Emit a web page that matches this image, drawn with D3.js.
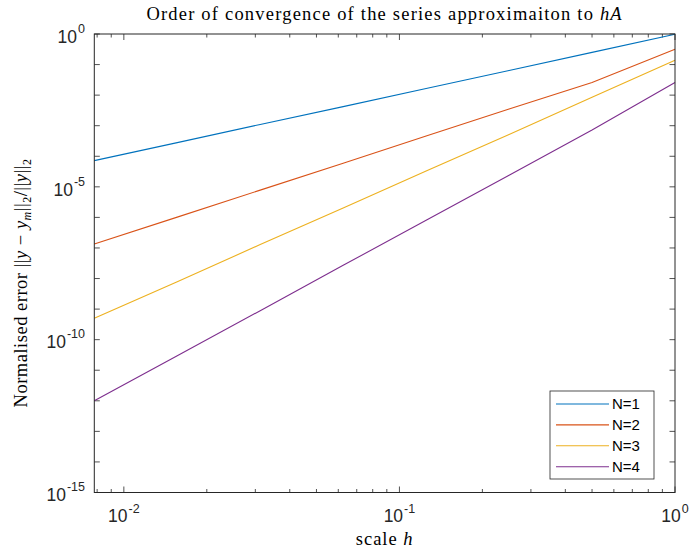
<!DOCTYPE html>
<html>
<head>
<meta charset="utf-8">
<script src="https://cdn.jsdelivr.net/npm/d3@7"></script>
<style>
  body { margin: 0; background: #fff; }
  svg { display: block; }
</style>
</head>
<body>
<div id="grafico"></div>
<script>
// datos
const h = [0.0078125, 0.015625, 0.03125, 0.0625, 0.125, 0.25, 0.5, 1];
const err1 = [7.2e-5, 2.8e-4, 1.1e-3, 4.2e-3, 1.65e-2, 6.4e-2, 0.25, 0.98];
const err2 = [1.35e-7, 1.02e-6, 7.8e-6, 5.9e-5, 4.6e-4, 3.5e-3, 2.6e-2, 0.316];
const err3 = [5.0e-10, 7.9e-9, 1.29e-7, 2.04e-6, 3.3e-5, 5.2e-4, 8.5e-3, 0.138];
const err4 = [1.0e-12, 3.0e-11, 8.9e-10, 2.7e-8, 8.1e-7, 2.4e-5, 7.2e-4, 2.6e-2];
const nombres = ["N=1", "N=2", "N=3", "N=4"];
const colores = ["#0072BD", "#D95319", "#EDB120", "#7E2F8E"];
const xTicks = [-2, -1, 0];          // exponentes etiquetados en x
const yTicks = [0, -5, -10, -15];    // exponentes etiquetados en y

const series = [err1, err2, err3, err4].map((e, i) => ({
  nombre: nombres[i],
  valores: h.map((v, j) => ({ h: v, e: e[j] })),
}));

const width = 691;
const height = 550;
const margin = { top: 34, right: 16, bottom: 57.5, left: 94.3 };
const axisColor = "#262626";

const svg = d3
  .select("#grafico")
  .append("svg")
  .attr("width", width)
  .attr("height", height);

const x = d3
  .scaleLog()
  .domain([h[0], 1])
  .range([margin.left, width - margin.right]);

const y = d3
  .scaleLog()
  .domain([1e-15, 1])
  .range([height - margin.bottom, margin.top]);

const color = d3.scaleOrdinal().domain(nombres).range(colores);

const x0 = margin.left, x1 = width - margin.right;
const y0 = height - margin.bottom, y1 = margin.top;

// ticks: decadas en y, menores en x
const yTickVals = d3.range(-15, 1).map((k) => Math.pow(10, k));
const xMajor = xTicks.map((k) => Math.pow(10, k));
const xMinor = [];
[-3, -2, -1].forEach((k) => {
  for (let m = 2; m <= 9; m++) {
    const v = m * Math.pow(10, k);
    if (v >= h[0] && v < 1) xMinor.push(v);
  }
});

const ticks = svg.append("g").attr("stroke", axisColor).attr("stroke-width", 0.8);
yTickVals.forEach((v) => {
  const yy = y(v);
  ticks.append("line").attr("x1", x0).attr("x2", x0 + 5.5).attr("y1", yy).attr("y2", yy);
  ticks.append("line").attr("x1", x1).attr("x2", x1 - 5.5).attr("y1", yy).attr("y2", yy);
});
xMajor.forEach((v) => {
  const xx = x(v);
  ticks.append("line").attr("x1", xx).attr("x2", xx).attr("y1", y0).attr("y2", y0 - 6);
  ticks.append("line").attr("x1", xx).attr("x2", xx).attr("y1", y1).attr("y2", y1 + 6);
});
xMinor.forEach((v) => {
  const xx = x(v);
  ticks.append("line").attr("x1", xx).attr("x2", xx).attr("y1", y0).attr("y2", y0 - 3.5);
  ticks.append("line").attr("x1", xx).attr("x2", xx).attr("y1", y1).attr("y2", y1 + 3.5);
});

// Lineas
const line = d3
  .line()
  .x((d) => x(d.h))
  .y((d) => y(d.e));

svg
  .append("g")
  .selectAll("path")
  .data(series)
  .join("path")
  .attr("d", (d) => line(d.valores))
  .attr("fill", "none")
  .attr("stroke", (d) => color(d.nombre))
  .attr("stroke-width", 1.1);

// caja
svg
  .append("rect")
  .attr("x", x0)
  .attr("y", y1)
  .attr("width", x1 - x0)
  .attr("height", y0 - y1)
  .attr("fill", "none")
  .attr("stroke", axisColor)
  .attr("stroke-width", 1);

// Etiquetas de ticks
const sans = "'Liberation Sans', Arial, Helvetica, sans-serif";
yTicks.forEach((k) => {
  const t = svg
    .append("text")
    .attr("x", 85)
    .attr("y", y(Math.pow(10, k)) + 8.7)
    .attr("text-anchor", "end")
    .attr("fill", axisColor)
    .style("font-family", sans)
    .style("font-size", "17.5px");
  t.append("tspan").text("10");
  t.append("tspan").attr("dx", 1).attr("dy", -10).style("font-size", "12.5px").text(k === 0 ? "0" : "-" + Math.abs(k));
});
xTicks.forEach((k) => {
  const t = svg
    .append("text")
    .attr("x", x(Math.pow(10, k)))
    .attr("y", 521.7)
    .attr("text-anchor", "middle")
    .attr("fill", axisColor)
    .style("font-family", sans)
    .style("font-size", "17.5px");
  t.append("tspan").text("10");
  t.append("tspan").attr("dx", 1).attr("dy", -9).style("font-size", "12.5px").text(k === 0 ? "0" : "-" + Math.abs(k));
});

// Titulo y ejes (tipo LaTeX)
const serif = "'Liberation Serif', 'DejaVu Serif', serif";
const titulo = svg
  .append("text")
  .attr("x", (x0 + x1) / 2)
  .attr("y", 20)
  .attr("text-anchor", "middle")
  .attr("fill", "#000")
  .style("font-family", serif)
  .style("font-size", "18.5px")
  .style("letter-spacing", "1.2px");
titulo.append("tspan").text("Order of convergence of the series approximaiton to ");
titulo.append("tspan").style("font-style", "italic").text("hA");

const xlab = svg
  .append("text")
  .attr("x", (x0 + x1) / 2)
  .attr("y", 545)
  .attr("text-anchor", "middle")
  .attr("fill", "#000")
  .style("font-family", serif)
  .style("font-size", "18.5px")
  .style("letter-spacing", "1px");
xlab.append("tspan").text("scale ");
xlab.append("tspan").style("font-style", "italic").text("h");

const ylab = svg
  .append("text")
  .attr("transform", `translate(27,283) rotate(-90)`)
  .attr("text-anchor", "middle")
  .attr("fill", "#000")
  .style("font-family", serif)
  .style("font-size", "18.5px")
  .style("letter-spacing", "0.5px");
ylab.append("tspan").text("Normalised error ||");
ylab.append("tspan").style("font-style", "italic").text("y");
ylab.append("tspan").text(" \u2212 ");
ylab.append("tspan").style("font-style", "italic").text("y");
ylab.append("tspan").attr("dy", 4).style("font-style", "italic").style("font-size", "12px").text("m");
ylab.append("tspan").attr("dy", -4).text("||");
ylab.append("tspan").attr("dy", 4).style("font-size", "12px").text("2");
ylab.append("tspan").attr("dy", -4).text("/||");
ylab.append("tspan").style("font-style", "italic").text("y");
ylab.append("tspan").text("||");
ylab.append("tspan").attr("dy", 4).style("font-size", "12px").text("2");

// Leyenda
const legend = svg.append("g").attr("transform", "translate(550,391)");
legend
  .append("rect")
  .attr("width", 104)
  .attr("height", 88)
  .attr("fill", "#fff")
  .attr("stroke", axisColor)
  .attr("stroke-width", 0.8);

nombres.forEach((n, i) => {
  const g = legend.append("g").attr("transform", `translate(0, ${13 + i * 20.9})`);
  g.append("line")
    .attr("x1", 6)
    .attr("x2", 59)
    .attr("stroke", color(n))
    .attr("stroke-width", 1.1);
  g.append("text")
    .attr("x", 62)
    .attr("y", 5.2)
    .attr("fill", "#000")
    .text(n)
    .style("font-family", sans)
    .style("font-size", "15px");
});
</script>
</body>
</html>
